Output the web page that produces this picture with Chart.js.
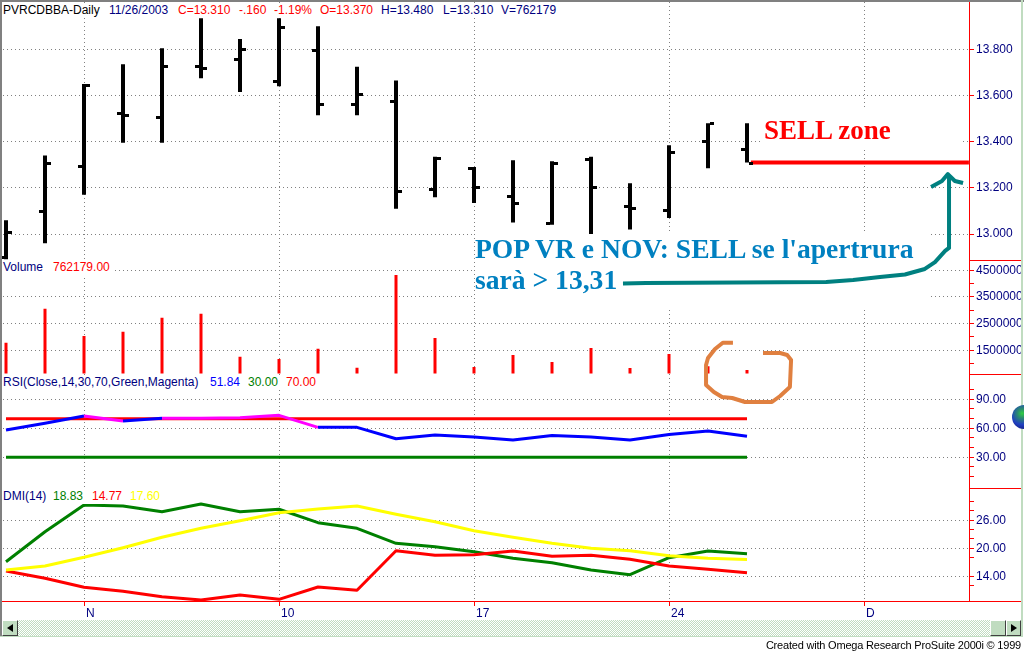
<!DOCTYPE html>
<html>
<head>
<meta charset="utf-8">
<title>PVRCDBBA-Daily</title>
<script src="https://cdn.jsdelivr.net/npm/chart.js@4/dist/chart.umd.min.js"></script>
<style>
    html, body { margin: 0; padding: 0; background: #fff; overflow: hidden; }
    #page { position: relative; width: 1024px; height: 651px; overflow: hidden; font: 12px "Liberation Sans", Arial, sans-serif; }
    #page canvas { position: absolute; left: 0; top: 0; }
    .strip { position: absolute; background: #fff; height: 15px; }
    .strip span { position: absolute; top: 0; line-height: 15px; white-space: nowrap; }
    .navy { color: #000080; } .red { color: #f00; } .black { color: #000; }
    .green { color: #008000; } .blue { color: #00f; } .yellow { color: #ff0; }
    .note { position: absolute; font-family: "Liberation Serif", serif; font-weight: bold; white-space: nowrap; }
    .edge { position: absolute; background: #808080; }
    .mint { position: absolute; background: #c0dcc0; }
    .track { position: absolute; left: 18px; top: 620px; width: 972px; height: 16px;
        background: repeating-conic-gradient(#c0dcc0 0 25%, #fff 0 50%) 0 0 / 2px 2px; }
    .btn { position: absolute; top: 620px; height: 16px; background: #c0dcc0; border: 1px solid; border-color: #fff #404040 #404040 #fff; box-sizing: border-box; }
    .arrow { position: absolute; top: 3px; width: 0; height: 0; border-top: 4px solid transparent; border-bottom: 4px solid transparent; }
    #globe { position: absolute; left: 1012px; top: 405px; width: 12px; height: 24px; border-radius: 12px 0 0 12px;
        background: radial-gradient(circle at 85% 35%, #30d040 0, #2a8a70 25%, #2040c0 60%, #101070 100%); }
    #credit { position: absolute; right: 3px; top: 638px; line-height: 14px; font-size: 11px; letter-spacing: -0.2px; color: #000; white-space: nowrap; }
</style>
</head>
<body>
<div id="page">
    <canvas id="chart" width="1021" height="651"></canvas>

    <div class="edge" style="left:0;top:0;width:1024px;height:2px"></div>
    <div class="edge" style="left:0;top:0;width:2px;height:636px"></div>
    <div class="mint" style="left:1021px;top:0;width:2px;height:637px"></div>
    <div class="mint" style="left:0;top:636px;width:1023px;height:1px"></div>

    <div class="strip" style="left:2px;top:3px;width:563px">
        <span class="black" style="left:1px">PVRCDBBA-Daily</span>
        <span class="navy" style="left:107px">11/26/2003</span>
        <span class="red" style="left:176px">C=13.310</span>
        <span class="red" style="left:237px">-.160</span>
        <span class="red" style="left:272px">-1.19%</span>
        <span class="red" style="left:318px">O=13.370</span>
        <span class="navy" style="left:379px">H=13.480</span>
        <span class="navy" style="left:441px">L=13.310</span>
        <span class="navy" style="left:499px">V=762179</span>
    </div>
    <div class="strip" style="left:2px;top:260px;width:112px">
        <span class="navy" style="left:1px">Volume</span>
        <span class="red" style="left:51px">762179.00</span>
    </div>
    <div class="strip" style="left:2px;top:375px;width:318px">
        <span class="navy" style="left:1px">RSI(Close,14,30,70,Green,Magenta)</span>
        <span class="blue" style="left:208px">51.84</span>
        <span class="green" style="left:246px">30.00</span>
        <span class="red" style="left:284px">70.00</span>
    </div>
    <div class="strip" style="left:2px;top:489px;width:162px">
        <span class="navy" style="left:1px">DMI(14)</span>
        <span class="green" style="left:51px">18.83</span>
        <span class="red" style="left:90px">14.77</span>
        <span class="yellow" style="left:128px">17.60</span>
    </div>

    <div class="note" style="left:764px;top:115px;font-size:27px;line-height:30px;color:#f00">SELL zone</div>
    <div class="note" style="left:475px;top:234px;font-size:27.6px;line-height:30px;color:#0080c0">POP VR e NOV: SELL se l'apertrura</div>
    <div class="note" style="left:475px;top:265px;font-size:27.6px;line-height:30px;color:#0080c0">sarà &gt; 13,31</div>

    <div id="globe"></div>
    <div class="track"></div>
    <div class="btn" style="left:2px;width:16px"><div class="arrow" style="left:4px;border-right:6px solid #000"></div></div>
    <div class="btn" style="left:990px;width:16px"></div>
    <div class="btn" style="left:1006px;width:15px"><div class="arrow" style="left:4px;border-left:6px solid #000"></div></div>
    <div id="credit">Created with Omega Research ProSuite 2000i © 1999</div>
</div>

<script>
// Trading days shown on the chart, one bar per entry
const dayLabels = ['10/30', '10/31', '11/03', '11/04', '11/05', '11/06', '11/07', '11/10', '11/11', '11/12',
    '11/13', '11/14', '11/17', '11/18', '11/19', '11/20', '11/21', '11/24', '11/25', '11/26'];
const days = dayLabels.map((label, i) => i);

// Date axis (index of the trading day, and the text under it)
const dateTickDays = [2, 7, 12, 17, 22];
const dateTickLabels = ['N', '10', '17', '24', 'D'];

// Price bars
const highs = [13.06, 13.34, 13.65, 13.735, 13.805, 13.935, 13.845, 13.935, 13.90, 13.725,
    13.665, 13.335, 13.29, 13.32, 13.315, 13.335, 13.22, 13.385, 13.48, 13.48];
const lows = [12.89, 12.96, 13.17, 13.395, 13.395, 13.675, 13.615, 13.64, 13.515, 13.515,
    13.11, 13.16, 13.135, 13.05, 13.04, 13.00, 13.02, 13.07, 13.285, 13.31];
const opens = [12.90, 13.10, 13.295, 13.525, 13.505, 13.73, 13.76, 13.665, 13.795, 13.565,
    13.575, 13.195, 13.285, 13.165, 13.05, 13.325, 13.12, 13.105, 13.405, 13.37];
const closes = [13.01, 13.31, 13.645, 13.515, 13.73, 13.72, 13.80, 13.895, 13.565, 13.605,
    13.185, 13.33, 13.205, 13.135, 13.31, 13.205, 13.115, 13.355, 13.48, 13.31];

// Volume
const volumes = [1785000, 3060000, 2036000, 2197000, 2722000, 2872000, 1260000, 1174000, 1560000, 848000,
    4323000, 1960000, 870000, 1320000, 1060000, 1590000, 840000, 1360000, 900000, 762179];

// RSI
const rsi = [58.2, 65.2, 72.7, 67.6, 70.3, 70.3, 71, 73.4, 61, 61,
    49.2, 53, 51, 47.9, 52.6, 51, 47.9, 53.6, 57.2, 51.84];
const rsiOverbought = [70, 70, 70, 70, 70, 70, 70, 70, 70, 70, 70, 70, 70, 70, 70, 70, 70, 70, 70, 70];
const rsiOversold = [30, 30, 30, 30, 30, 30, 30, 30, 30, 30, 30, 30, 30, 30, 30, 30, 30, 30, 30, 30];

// DMI
const dmiPlus = [17.13, 23.56, 29.28, 29.06, 27.84, 29.49, 27.84, 28.36, 25.49, 24.29,
    21.07, 20.34, 19.27, 17.86, 16.91, 15.35, 14.34, 17.99, 19.42, 18.83];
const dmiMinus = [15.14, 13.57, 11.64, 10.79, 9.63, 8.92, 9.99, 9.07, 11.71, 11,
    19.49, 18.5, 18.63, 19.42, 18.29, 18.5, 17.64, 16.21, 15.5, 14.77];
const adx = [15.35, 16.21, 18.07, 20.13, 22.36, 24.29, 25.91, 27.63, 28.42, 29.06,
    27.29, 25.7, 23.77, 22.36, 21.07, 20, 19.49, 18.41, 17.86, 17.6];

// Hand drawn marks on the screenshot, in days and price / volume
const sellDays = [19.1, 24.69];
const sellPrices = [13.31, 13.31];
const arrowDays = [15.82, 16.41, 21.03, 21.72, 22.41, 23.05, 23.56, 23.82, 24.08, 24.18, 24.18];
const arrowPrices = [12.786, 12.788, 12.793, 12.801, 12.814, 12.825, 12.849, 12.879, 12.927, 12.94, 13.256];
const headDays = [23.72, 24.0, 24.15, 24.33, 24.54];
const headPrices = [13.204, 13.23, 13.26, 13.23, 13.221];
const circleDays = [18.64, 18.38, 18.18, 18.0, 17.95, 17.95, 18.15, 18.36, 18.62, 18.95, 19.64, 19.85, 20.1, 20.13, 20.03, 19.85, 19.41];
const circleVolumes = [1785000, 1785000, 1549000, 1211000, 949000, 199000, -64000, -251000, -289000, -439000, -439000, -214000, 124000, 1136000, 1324000, 1399000, 1399000];

// Axis ticks, the labelled ones get a grid line as well
const priceTicks = [13.0, 13.2, 13.4, 13.6, 13.8];
const priceLabels = [13.0, 13.2, 13.4, 13.6, 13.8];
const volumeTicks = [1000000, 1500000, 2000000, 2500000, 3000000, 3500000, 4000000, 4500000];
const volumeLabels = [1500000, 2500000, 3500000, 4500000];
const rsiTicks = [10, 20, 30, 40, 50, 60, 70, 80, 90, 100];
const rsiLabels = [30, 60, 90];
const dmiTicks = [12, 14, 18, 20, 22, 24, 26, 28, 30];
const dmiLabels = [14, 20, 26];

const font = { family: '"Liberation Sans", Arial, sans-serif', size: 12 };

// Pair an x list and a y list into the points the library wants
const points = (xs, ys) => xs.map((x, i) => ({ x: x, y: ys[i] }));

// Line dataset helper
function lineSet(xs, ys, yAxisID, color, width, order) {
    return {
        type: 'line', data: points(xs, ys), yAxisID: yAxisID, order: order,
        borderColor: color, borderWidth: width, pointRadius: 0, tension: 0,
        borderJoinStyle: 'round', clip: false
    };
}

// One y axis of the stacked panels
function panelAxis(min, max, weight, ticks, labels, digits) {
    return {
        type: 'linear', position: 'right', stack: 'panels', stackWeight: weight,
        min: min, max: max, beginAtZero: false,
        afterFit: scale => {
            scale.width = 52;
            // No room kept for half a label above and below, the panels fill the height
            scale.paddingTop = 0;
            scale.paddingBottom = 0;
        },
        afterBuildTicks: scale => { scale.ticks = ticks.map(value => ({ value: value })); },
        border: { color: '#f00', dash: [1, 3] },
        grid: {
            color: c => (c.tick && labels.includes(c.tick.value)) ? '#808080' : 'rgba(0,0,0,0)',
            tickColor: '#f00', tickLength: 5
        },
        ticks: {
            color: '#000080', font: font, padding: 2, autoSkip: false, maxRotation: 0,
            callback: value => labels.includes(value) ? value.toFixed(digits) : ''
        }
    };
}

// Open and close ticks on the price bars
const openCloseTicks = {
    id: 'openCloseTicks',
    afterDatasetsDraw(chart) {
        const { ctx, scales } = chart;
        ctx.save();
        ctx.fillStyle = '#000';
        days.forEach(day => {
            const x = Math.round(scales.x.getPixelForValue(day));
            ctx.fillRect(x - 6, Math.round(scales.yPrice.getPixelForValue(opens[day])) - 1, 4, 3);
            ctx.fillRect(x + 2, Math.round(scales.yPrice.getPixelForValue(closes[day])) - 1, 4, 3);
        });
        ctx.restore();
    }
};

// The text boxes pasted on the screenshot wipe the grid below them
const pastedBoxes = {
    id: 'pastedBoxes',
    beforeDatasetsDraw(chart) {
        const { ctx } = chart;
        ctx.save();
        ctx.fillStyle = '#fff';
        ctx.fillRect(475, 231, 455, 79);
        ctx.fillRect(763, 110, 199, 40);
        ctx.restore();
    }
};

// Red lines between the panels in the axis column and under the dates
const panelRules = {
    id: 'panelRules',
    afterDraw(chart) {
        const { ctx, scales, chartArea } = chart;
        ctx.save();
        ctx.strokeStyle = '#f00';
        ctx.lineWidth = 1;
        ctx.beginPath();
        ['yPrice', 'yVol', 'yRsi'].forEach(id => {
            const y = Math.round(scales[id].bottom) + 0.5;
            ctx.moveTo(chartArea.right, y);
            ctx.lineTo(1021, y);
        });
        const base = Math.round(chartArea.bottom) + 0.5;
        ctx.moveTo(2, base);
        ctx.lineTo(1021, base);
        ctx.stroke();
        ctx.restore();
    }
};

new Chart(document.getElementById('chart').getContext('2d'), {
    data: {
        datasets: [
            lineSet(headDays, headPrices, 'yPrice', '#008080', 4, 0),
            lineSet(arrowDays, arrowPrices, 'yPrice', '#008080', 4, 0),
            lineSet(circleDays, circleVolumes, 'yVol', '#e08040', 4, 0),
            lineSet(sellDays, sellPrices, 'yPrice', '#f00', 4, 1),
            {
                type: 'bar', data: points(days, lows.map((low, i) => [low, highs[i]])), yAxisID: 'yPrice', order: 2,
                backgroundColor: '#000', barThickness: 4, grouped: false, inflateAmount: 0
            },
            {
                type: 'bar', data: points(days, volumes), yAxisID: 'yVol', order: 3,
                backgroundColor: '#f00', barThickness: 3, grouped: false, inflateAmount: 0
            },
            Object.assign(lineSet(days, rsi, 'yRsi', '#00f', 3, 4), {
                // Above 70 the study paints magenta
                segment: { borderColor: c => c.p0.parsed.y >= 70 ? '#f0f' : '#00f' }
            }),
            lineSet(days, rsiOverbought, 'yRsi', '#f00', 3, 5),
            lineSet(days, rsiOversold, 'yRsi', '#008000', 3, 5),
            lineSet(days, adx, 'yDmi', '#ff0', 3, 6),
            lineSet(days, dmiMinus, 'yDmi', '#f00', 3, 7),
            lineSet(days, dmiPlus, 'yDmi', '#008000', 3, 8)
        ]
    },
    options: {
        responsive: false,
        animation: false,
        layout: { padding: { left: 3, top: 2, right: 0, bottom: 0 } },
        plugins: { legend: { display: false }, tooltip: { enabled: false } },
        scales: {
            x: {
                type: 'linear', position: 'bottom', offset: false,
                min: -3 / 39, max: 963 / 39,
                afterFit: scale => {
                    scale.height = 50;
                    scale.paddingLeft = 0;
                    scale.paddingRight = 0;
                },
                afterBuildTicks: scale => { scale.ticks = dateTickDays.map(value => ({ value: value })); },
                border: { color: '#f00', dash: [1, 3] },
                grid: { offset: false, color: '#808080', tickColor: '#f00', tickLength: 5 },
                ticks: {
                    color: '#000080', font: font, align: 'start', labelOffset: 2, padding: 0, autoSkip: false, maxRotation: 0,
                    callback: value => dateTickLabels[dateTickDays.indexOf(value)]
                }
            },
            yPrice: panelAxis(12.89, 14.005, 257.5, priceTicks, priceLabels, 3),
            yVol: panelAxis(630000, 4905000, 114, volumeTicks, volumeLabels, 0),
            yRsi: panelAxis(-1.76, 116.7, 114.5, rsiTicks, rsiLabels, 2),
            yDmi: panelAxis(8.71, 32.92, 113, dmiTicks, dmiLabels, 2)
        }
    },
    plugins: [pastedBoxes, openCloseTicks, panelRules]
});
</script>
</body>
</html>
